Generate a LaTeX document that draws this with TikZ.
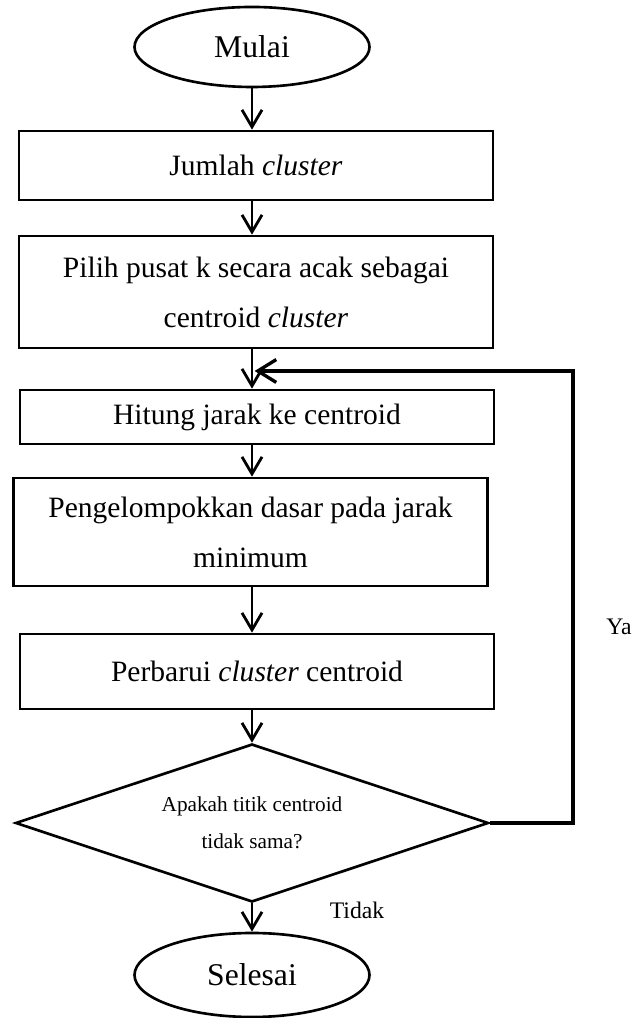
\documentclass[tikz,border=0pt]{standalone}
\usepackage{fontspec}
\setmainfont{Liberation Serif}
\usetikzlibrary{shapes.geometric,arrows.meta}

\definecolor{kmeansInk}{RGB}{0,0,0}
\definecolor{kmeansPaper}{RGB}{255,255,255}

\begin{document}
\begin{tikzpicture}[x=1cm,y=1cm,
      terminal/.style={ellipse, draw=kmeansInk, line width=1.5pt,
        minimum width=4.70cm, minimum height=1.60cm, inner sep=0pt,
        font=\fontsize{18}{21}\selectfont},
      process/.style={rectangle, draw=kmeansInk, line width=1.5pt,
        minimum width=9.48cm, inner sep=0pt, align=center,
        font=\fontsize{16.8}{28.5}\selectfont},
      decision/.style={diamond, aspect=2.99, draw=kmeansInk, line width=1.5pt,
        minimum width=9.46cm, minimum height=3.16cm, inner sep=0pt,
        align=center, font=\fontsize{12.1}{21}\selectfont},
      flow/.style={draw=kmeansInk, line width=1.6pt,
        -{Straight Barb[length=9.7pt,width=11.4pt]}},
      feedback/.style={draw=kmeansInk, line width=1.9pt,
        -{Straight Barb[length=10.5pt,width=13pt]}},
      branch/.style={fill=kmeansPaper, inner sep=1pt,
        font=\fontsize{13.5}{16}\selectfont}]
      \useasboundingbox (0,0) rectangle (12.68,20.36);
      \fill[kmeansPaper] (0,0) rectangle (12.68,20.36);

      \node[terminal] (mulai) at (5.04,19.42) {Mulai};
      \node[process, minimum height=1.38cm] (jumlah) at (5.12,17.05)
        {Jumlah \textit{cluster}};
      \node[process, minimum height=2.24cm] (pusat) at (5.12,14.52)
        {Pilih pusat k secara acak sebagai\\centroid \textit{cluster}};
      \node[process, minimum height=1.08cm] (jarak) at (5.14,12.02)
        {Hitung jarak ke centroid};
      \node[process, minimum height=2.16cm] (kelompok) at (5.01,9.72)
        {Pengelompokkan dasar pada jarak\\minimum};
      \node[process, minimum height=1.50cm] (perbarui) at (5.14,6.93)
        {Perbarui \textit{cluster} centroid};
      \node[decision] (cek) at (5.04,3.90)
        {Apakah titik centroid\\tidak sama?};
      \node[terminal, minimum height=1.68cm] (selesai) at (5.04,0.86)
        {Selesai};

      \draw[flow] (mulai.south) -- (jumlah.north -| mulai);
      \draw[flow] (jumlah.south -| mulai) -- (pusat.north -| mulai);
      \draw[flow] (pusat.south -| mulai) -- (jarak.north -| mulai);
      \draw[flow] (jarak.south -| mulai) -- (kelompok.north -| mulai);
      \draw[flow] (kelompok.south -| mulai) -- (perbarui.north -| mulai);
      \draw[flow] (perbarui.south -| mulai) -- (cek.north);
      \draw[flow] (cek.south) -- (selesai.north);

      \coordinate (balik) at (11.46,12.94);
      \draw[feedback] (cek.east) -- (cek.east -| balik) -- (balik)
        -- ([xshift=1.5pt]balik -| mulai);

      \node[branch, inner sep=0pt] (ya) at (12.38,7.82) {Ya};
      \node[branch] (tidak) at (7.14,2.16) {Tidak};
    \end{tikzpicture}
\end{document}
